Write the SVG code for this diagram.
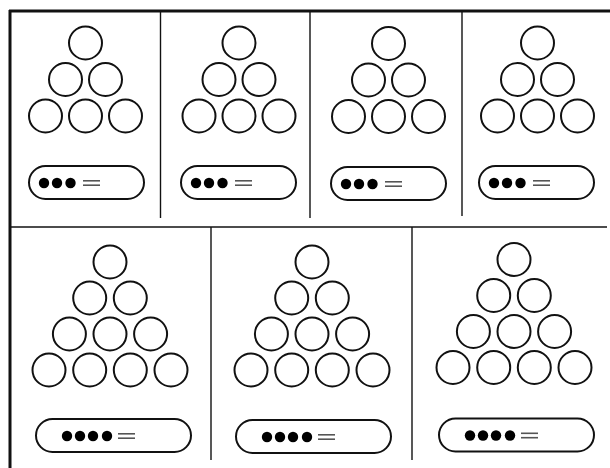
<svg xmlns="http://www.w3.org/2000/svg" width="610" height="468" viewBox="0 0 610 468">
<defs>
<style>
.c{fill:none;stroke:#111;stroke-width:2}
.p{fill:none;stroke:#111;stroke-width:2}
.d{fill:#000}
.e{stroke:#555;stroke-width:1.6}
.f{stroke:#111;fill:none}
</style>
<circle id="c" class="c" r="16.5"/>
<circle id="dt" class="d" r="5.2"/>
<g id="eq"><line class="e" x1="0" y1="-2.2" x2="17" y2="-2.2"/><line class="e" x1="0" y1="2.2" x2="17" y2="2.2"/></g>
<g id="tri3">
<use href="#c" x="0" y="0"/>
<use href="#c" x="-20" y="36.5"/><use href="#c" x="20" y="36.5"/>
<use href="#c" x="-40" y="73"/><use href="#c" x="0" y="73"/><use href="#c" x="40" y="73"/>
</g>
<g id="tri4">
<use href="#c" x="0" y="0"/>
<use href="#c" x="-20.3" y="36"/><use href="#c" x="20.3" y="36"/>
<use href="#c" x="-40.6" y="72"/><use href="#c" x="0" y="72"/><use href="#c" x="40.6" y="72"/>
<use href="#c" x="-61" y="108"/><use href="#c" x="-20.3" y="108"/><use href="#c" x="20.3" y="108"/><use href="#c" x="61" y="108"/>
</g>
<g id="pill3">
<rect class="p" x="0" y="0" width="115" height="33" rx="16.5"/>
<use href="#dt" x="15" y="17"/><use href="#dt" x="28" y="17"/><use href="#dt" x="41.5" y="17"/>
<use href="#eq" x="54" y="17"/>
</g>
<g id="pill4">
<rect class="p" x="0" y="0" width="155" height="33" rx="16.5"/>
<use href="#dt" x="31" y="17"/><use href="#dt" x="44" y="17"/><use href="#dt" x="57" y="17"/><use href="#dt" x="71" y="17"/>
<use href="#eq" x="82" y="17"/>
</g>
</defs>
<rect width="610" height="468" fill="#fff"/>
<g id="frame">
<line class="f" x1="9" y1="11" x2="610" y2="11" stroke-width="3"/>
<line class="f" x1="10" y1="10" x2="10" y2="468" stroke-width="3"/>
<line class="f" x1="10" y1="227" x2="607" y2="227" stroke-width="1.5"/>
<line class="f" x1="160.5" y1="11" x2="160.5" y2="218" stroke-width="1.4"/>
<line class="f" x1="310" y1="11" x2="310" y2="218" stroke-width="1.4"/>
<line class="f" x1="462" y1="11" x2="462" y2="216" stroke-width="1.4"/>
<line class="f" x1="211" y1="227" x2="211" y2="460" stroke-width="1.4"/>
<line class="f" x1="412" y1="227" x2="412" y2="460" stroke-width="1.4"/>
</g>
<g id="panel1"><use href="#tri3" x="85.5" y="43"/><use href="#pill3" x="29" y="166"/></g>
<g id="panel2"><use href="#tri3" x="239" y="43"/><use href="#pill3" x="181" y="166"/></g>
<g id="panel3"><use href="#tri3" x="388.5" y="43.5"/><use href="#pill3" x="331" y="167"/></g>
<g id="panel4"><use href="#tri3" x="537.5" y="43"/><use href="#pill3" x="479" y="166"/></g>
<g id="panel5"><use href="#tri4" x="110" y="262"/><use href="#pill4" x="36" y="419"/></g>
<g id="panel6"><use href="#tri4" x="312" y="262"/><use href="#pill4" x="236" y="420"/></g>
<g id="panel7"><use href="#tri4" x="514" y="259.5"/><use href="#pill4" x="439" y="418.5"/></g>
</svg>
